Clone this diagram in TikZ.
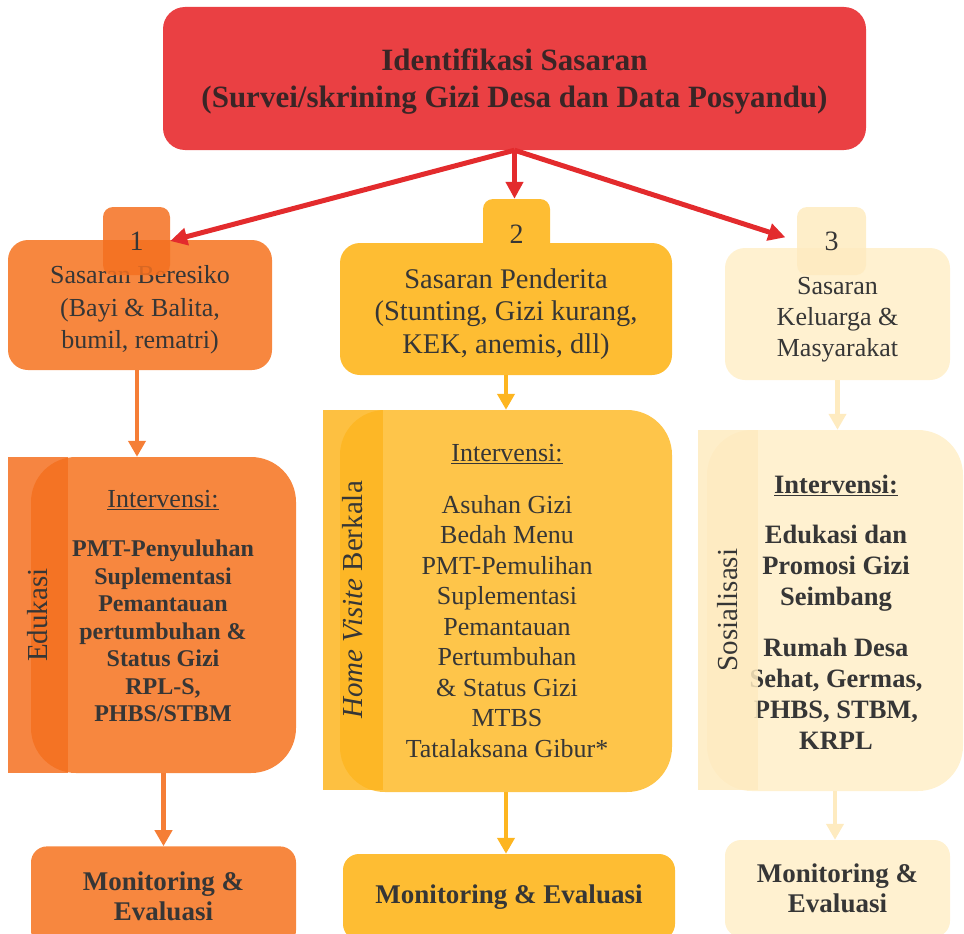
\documentclass[tikz,border=0pt]{standalone}
\usepackage{fontspec}
\setmainfont{Liberation Serif}
\usetikzlibrary{arrows.meta,positioning}

\definecolor{ink}{HTML}{363636}
\definecolor{titleink}{HTML}{3A2526}
\definecolor{titlered}{HTML}{EA4043}
\definecolor{arrowred}{HTML}{E32B2D}
\definecolor{orangeA}{HTML}{F7873F}
\definecolor{orangeB}{HTML}{F47020}
\definecolor{yellowA}{HTML}{FEBD33}
\definecolor{yellowB}{HTML}{FDB520}
\definecolor{yellowC}{HTML}{FEC54A}
\definecolor{creamA}{HTML}{FFF1D0}
\definecolor{creamB}{HTML}{FEEBC0}

% strut that pushes the first line of a box down a little
\newcommand{\topstrut}[1]{\rule{0pt}{#1}}

\tikzset{
	box/.style={rectangle, align=center, text=ink, inner sep=0pt},
	hdr/.style={box, rounded corners=20pt},
	numtab/.style={box, rounded corners=10pt, fill opacity=0.85, text opacity=1, font=\fontsize{28}{32}\selectfont},
	ivbox/.style={box, rounded corners=45pt},
	side/.style={box, rotate=90, minimum height=60pt, fill opacity=0.85, text opacity=1, font=\fontsize{29}{32}\selectfont},
	mon/.style={box, rounded corners=16pt, font=\bfseries\fontsize{27}{30}\selectfont},
	redarrow/.style={draw=arrowred, line width=5pt, -{Triangle[length=17pt,width=17pt]}},
	flow/.style={line width=4.5pt, -{Triangle[length=16pt,width=17pt]}},
}

\begin{document}
\begin{tikzpicture}[x=1pt, y=-1pt]
	\clip (0,0) rectangle (964,934);

	% identifikasi
	\node[box, fill=titlered, text=titleink, rounded corners=22pt, minimum width=703pt, minimum height=143pt,
		font=\bfseries\fontsize{31}{37}\selectfont] (head) at (514.5,78.5)
		{\topstrut{28pt}Identifikasi Sasaran\\(Survei/skrining Gizi Desa dan Data Posyandu)};

	% sasaran
	\node[hdr, fill=orangeA, minimum width=264pt, minimum height=130pt, font=\fontsize{26}{32.5}\selectfont] (s1) at (140,305)
		{\topstrut{28pt}Sasaran Beresiko\\(Bayi \& Balita,\\bumil, rematri)};
	\node[numtab, fill=orangeB, minimum width=67pt, minimum height=68pt] (t1) at (136.5,241) {1};

	\node[hdr, fill=yellowA, minimum width=332pt, minimum height=132pt, font=\fontsize{28.5}{32.5}\selectfont] (s2) at (506,309)
		{\topstrut{30pt}Sasaran Penderita\\(Stunting, Gizi kurang,\\KEK, anemis, dll)};
	\node[numtab, fill=yellowA, fill opacity=1, minimum width=67pt, minimum height=70pt] (t2) at (516.5,234) {2};

	\node[hdr, fill=creamA, minimum width=225pt, minimum height=132pt, font=\fontsize{26}{31}\selectfont] (s3) at (837.5,314)
		{\topstrut{29pt}Sasaran\\Keluarga \&\\Masyarakat};
	\node[numtab, fill=creamB, minimum width=69pt, minimum height=68pt] (t3) at (831.5,241) {3};

	% intervensi
	\node[ivbox, fill=orangeA, minimum width=265pt, minimum height=316pt] (i1) at (163.5,615) {};
	\node[box, font=\fontsize{24}{27.5}\selectfont] (c1) at (163,606)
		{{\fontsize{26}{27.5}\selectfont\underline{Intervensi:}}\\[22pt]
		\textbf{PMT-Penyuluhan}\\\textbf{Suplementasi}\\\textbf{Pemantauan}\\\textbf{pertumbuhan \&}\\
		\textbf{Status Gizi}\\\textbf{RPL-S,}\\\textbf{PHBS/STBM}};
	\node[side, fill=orangeB, minimum width=316pt] (e1) at (38,615) {Edukasi};

	\node[ivbox, fill=yellowC, minimum width=332pt, minimum height=382pt] (i2) at (506,601) {};
	\node[box, font=\fontsize{26}{30.5}\selectfont] (c2) at (507,601)
		{\underline{Intervensi:}\\[21pt]
		Asuhan Gizi\\Bedah Menu\\PMT-Pemulihan\\Suplementasi\\Pemantauan\\
		Pertumbuhan\\\& Status Gizi\\MTBS\\Tatalaksana Gibur*};
	\node[side, fill=yellowB, minimum width=380pt] (e2) at (353,600) {\textit{Home Visite} Berkala};

	\node[ivbox, fill=creamA, minimum width=256pt, minimum height=361pt] (i3) at (835,610.5) {};
	\node[box, font=\bfseries\fontsize{26.5}{31}\selectfont] (c3) at (836,612.5)
		{\underline{Intervensi:}\\[19pt]
		Edukasi dan\\Promosi Gizi\\Seimbang\\[20pt]
		Rumah Desa\\Sehat, Germas,\\PHBS, STBM,\\KRPL};
	\node[side, fill=creamB, minimum width=360pt] (e3) at (728,610) {Sosialisasi};

	% monitoring
	\node[mon, fill=orangeA, minimum width=265pt, minimum height=100pt, below=73pt of i1] (m1) {Monitoring \&\\Evaluasi};
	\node[mon, fill=yellowA, minimum width=332pt, minimum height=86pt] (m2) at (509,897) {Monitoring \& Evaluasi};
	\node[mon, fill=creamA, minimum width=225pt, minimum height=97pt] (m3) at (837.5,888.5) {Monitoring \&\\Evaluasi};

	% panah
	\draw[redarrow] (head.south) -- (t1.east);
	\draw[redarrow] (head.south) -- (head.south |- t2.north);
	\draw[redarrow, shorten >=12pt] (head.south) -- (t3.west);

	\draw[flow, draw=orangeB!90] ([xshift=-3pt]s1.south) -- ([xshift=-3pt]s1.south |- i1.north);
	\draw[flow, draw=orangeB!90] (i1.south) -- (m1.north);
	\draw[flow, draw=yellowB] (s2.south) -- (s2.south |- i2.north);
	\draw[flow, draw=yellowB] (i2.south) -- (i2.south |- m2.north);
	\draw[flow, draw=creamB] (s3.south) -- (s3.south |- i3.north);
	\draw[flow, draw=creamB] (i3.south) -- (i3.south |- m3.north);
\end{tikzpicture}
\end{document}
